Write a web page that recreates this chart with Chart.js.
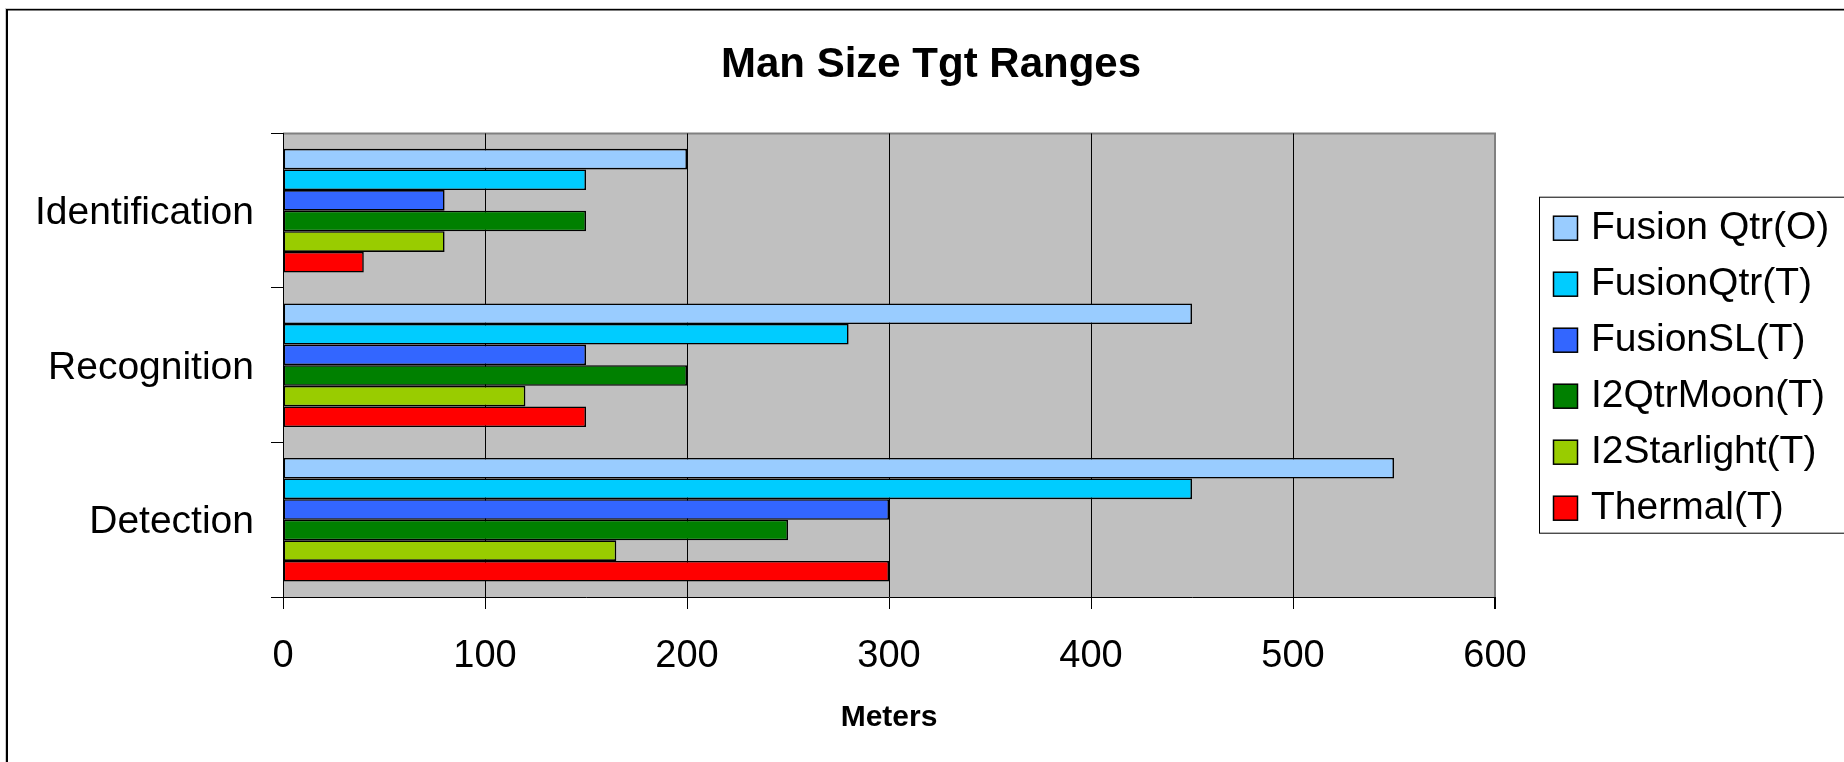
<!DOCTYPE html>
<html>
<head>
<meta charset="utf-8">
<script src="https://cdn.jsdelivr.net/npm/chart.js@4.4.1/dist/chart.umd.min.js"></script>
<style>
  html, body { margin: 0; padding: 0; background: #ffffff; }
  #wrap { width: 1844px; height: 762px; position: relative; }
</style>
</head>
<body>
<div id="wrap"><canvas id="c"></canvas></div>
<script>
// ---- data ----
const categories = ['Identification', 'Recognition', 'Detection'];
const seriesNames = ['Fusion Qtr(O)', 'FusionQtr(T)', 'FusionSL(T)', 'I2QtrMoon(T)', 'I2Starlight(T)', 'Thermal(T)'];
const fusionQtrO = [200, 450, 550];
const fusionQtrT = [150, 280, 450];
const fusionSL = [80, 150, 300];
const i2QtrMoon = [150, 200, 250];
const i2Starlight = [80, 120, 165];
const thermal = [40, 150, 300];
const xTickValues = [0, 100, 200, 300, 400, 500, 600];
const seriesColors = ['#99CCFF', '#00CCFF', '#3366FF', '#008000', '#99CC00', '#FF0000'];

const FONT = '"Liberation Sans", Arial, Helvetica, sans-serif';
const seriesValues = [fusionQtrO, fusionQtrT, fusionSL, i2QtrMoon, i2Starlight, thermal];

const datasets = seriesNames.map((name, i) => ({
  label: name,
  data: seriesValues[i],
  backgroundColor: seriesColors[i],
  borderColor: '#000000',
  borderWidth: 1.6,
  borderSkipped: false,
  categoryPercentage: 0.8,
  barPercentage: 1.0
}));

// background + frame
const framePlugin = {
  id: 'frame',
  beforeDraw(chart) {
    const ctx = chart.ctx, a = chart.chartArea;
    ctx.save();
    ctx.fillStyle = '#ffffff';
    ctx.fillRect(0, 0, chart.width, chart.height);
    ctx.fillStyle = '#cccccc';
    ctx.fillRect(5, 8, chart.width, 1);
    ctx.fillRect(5, 8, 1, chart.height);
    ctx.fillStyle = '#000000';
    ctx.fillRect(6, 9, chart.width, 1.5);
    ctx.fillRect(6, 9, 2, chart.height);
    ctx.fillStyle = '#C0C0C0';
    ctx.fillRect(a.left, a.top, a.right - a.left, a.bottom - a.top);
    ctx.strokeStyle = '#808080';
    ctx.lineWidth = 2;
    ctx.beginPath();
    ctx.moveTo(a.left, a.top);
    ctx.lineTo(a.right, a.top);
    ctx.lineTo(a.right, a.bottom);
    ctx.stroke();
    ctx.restore();
  }
};

// reserve room on the right and draw the legend there
const legendBoxPlugin = {
  id: 'legendBox',
  beforeInit(chart) {
    const box = {
      position: 'right',
      weight: 500,
      fullSize: false,
      options: { position: 'right', weight: 500, fullSize: false, stackWeight: 1 },
      isHorizontal() { return false; },
      getPadding() { return { left: 0, right: 0, top: 0, bottom: 0 }; },
      update(maxWidth, maxHeight) {
        this.width = 349; this.height = maxHeight;
        return { width: this.width, height: this.height };
      },
      draw() {
        const ctx = chart.ctx, a = chart.chartArea;
        const left = this.left + 44.5;
        const mid = (a.top + a.bottom) / 2;
        const rowH = 56;
        const n = chart.data.datasets.length;
        const top = mid - (n * rowH) / 2;
        ctx.save();
        ctx.fillStyle = '#ffffff';
        ctx.fillRect(left, top, chart.width - left + 5, n * rowH);
        ctx.strokeStyle = '#000000';
        ctx.lineWidth = 1;
        ctx.strokeRect(left, top, chart.width - left + 5, n * rowH);
        ctx.font = '39px ' + FONT;
        ctx.textBaseline = 'middle';
        ctx.textAlign = 'left';
        chart.data.datasets.forEach((ds, i) => {
          const cy = mid + 3 + (i - (n - 1) / 2) * rowH;
          ctx.fillStyle = ds.backgroundColor;
          ctx.fillRect(left + 14, cy - 12, 24, 24);
          ctx.strokeStyle = '#000000';
          ctx.lineWidth = 1.5;
          ctx.strokeRect(left + 14, cy - 12, 24, 24);
          ctx.fillStyle = '#000000';
          ctx.fillText(ds.label, left + 51.5, cy);
        });
        ctx.restore();
      }
    };
    Chart.layouts.addBox(chart, box);
  }
};

new Chart(document.getElementById('c'), {
  type: 'bar',
  data: { labels: categories, datasets },
  plugins: [framePlugin, legendBoxPlugin],
  options: {
    indexAxis: 'y',
    responsive: true,
    maintainAspectRatio: false,
    animation: false,
    devicePixelRatio: 1,
    layout: { padding: { left: 18, right: 0, top: 0, bottom: 0 } },
    plugins: {
      legend: { display: false },
      tooltip: { enabled: false },
      title: {
        display: true,
        text: 'Man Size Tgt Ranges',
        color: '#000000',
        font: { family: FONT, size: 42, weight: 'bold' },
        padding: { top: 40, bottom: 43 }
      }
    },
    scales: {
      x: {
        type: 'linear',
        position: 'bottom',
        min: 0,
        max: 600,
        afterBuildTicks(scale) { scale.ticks = xTickValues.map(v => ({ value: v })); },
        afterFit(scale) { scale.height = 165; },
        ticks: {
          color: '#000000',
          font: { family: FONT, size: 38 },
          padding: 25,
          maxRotation: 0
        },
        grid: {
          color: (c) => (c.tick && c.tick.value === 600 ? '#808080' : '#000000'),
          lineWidth: (c) => (c.tick && c.tick.value === 600 ? 2 : 1),
          tickColor: '#000000',
          tickLength: 12,
          drawOnChartArea: true,
          drawTicks: true
        },
        border: { display: true, color: '#000000', width: 1 },
        title: {
          display: true,
          text: 'Meters',
          color: '#000000',
          font: { family: FONT, size: 30, weight: 'bold' },
          padding: { top: 0, bottom: 26 }
        }
      },
      y: {
        type: 'category',
        afterFit(scale) { scale.width = 265; },
        ticks: {
          color: '#000000',
          font: { family: FONT, size: 39 },
          padding: 17,
          labelOffset: 3
        },
        grid: {
          offset: true,
          drawOnChartArea: false,
          drawTicks: true,
          tickLength: 12,
          color: '#000000',
          tickColor: '#000000',
          lineWidth: 1
        },
        border: { display: true, color: '#000000', width: 1 }
      }
    }
  }
});
</script>
</body>
</html>
